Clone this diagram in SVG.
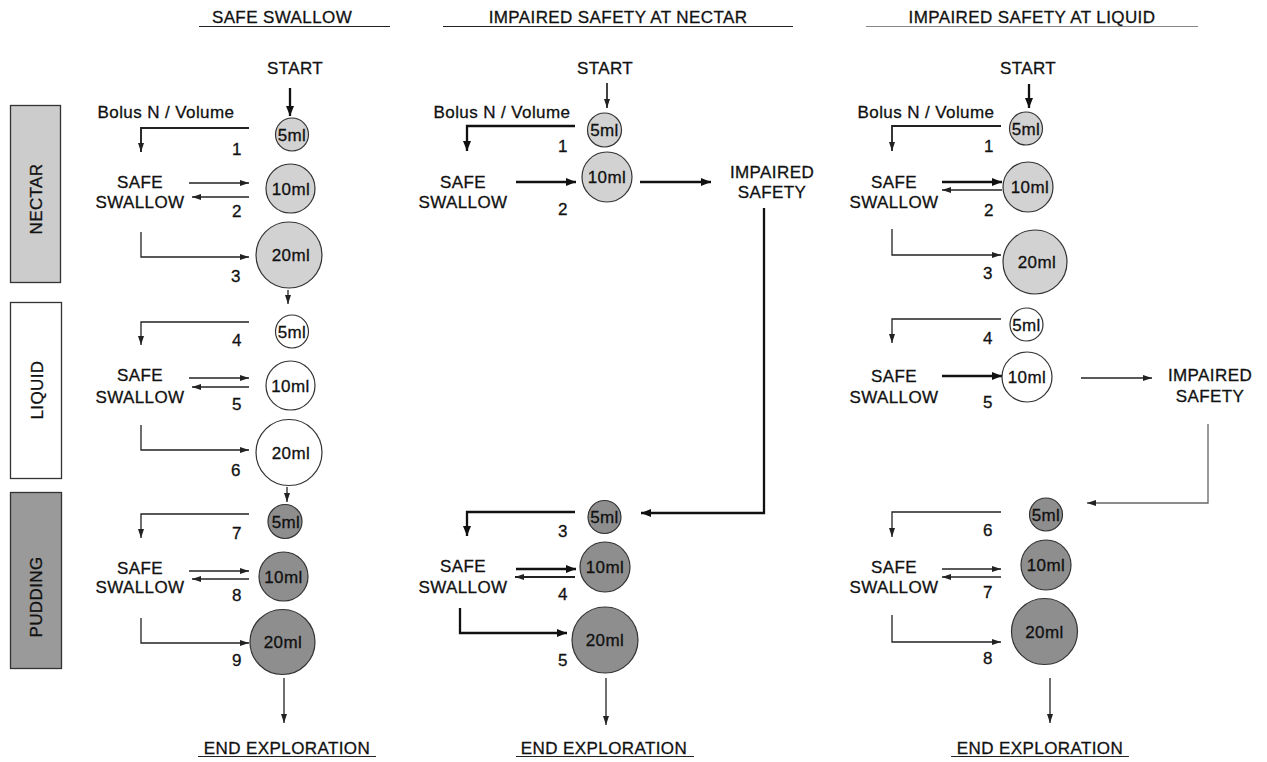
<svg xmlns="http://www.w3.org/2000/svg" width="1267" height="762" viewBox="0 0 1267 762">
<style>
text{font-family:"Liberation Sans",Arial,sans-serif;font-size:17px;fill:#111;stroke:#111;stroke-width:0.3;letter-spacing:0.4px;text-anchor:middle}
.c{stroke:#333;stroke-width:1.2}
.n{fill:#d2d2d2}.l{fill:#fff}.p{fill:#8e8e8e}
.w{fill:none;stroke:#222;stroke-width:1.3}
.b{fill:none;stroke:#111;stroke-width:2.3}
.g{fill:none;stroke:#666;stroke-width:1.3}
.u{stroke:#222;stroke-width:1.2}
</style>
<defs>
<marker id="ah" markerUnits="userSpaceOnUse" markerWidth="9" markerHeight="6" refX="9" refY="3" orient="auto"><path d="M0,0 L9,3 L0,6 z" fill="#222"/></marker>
<marker id="ahb" markerUnits="userSpaceOnUse" markerWidth="10" markerHeight="8" refX="10" refY="4" orient="auto"><path d="M0,0 L10,4 L0,8 z" fill="#111"/></marker>
</defs>

<g id="titles">
<text x="282" y="23">SAFE SWALLOW</text>
<line class="u" x1="199" y1="26.5" x2="390" y2="26.5"/>
<text x="618" y="23">IMPAIRED SAFETY AT NECTAR</text>
<line class="u" x1="443" y1="26.5" x2="793" y2="26.5"/>
<text x="1032" y="23">IMPAIRED SAFETY AT LIQUID</text>
<line stroke="#888" stroke-width="1.2" x1="866" y1="26.5" x2="1198" y2="26.5"/>
</g>

<g id="boxes">
<g id="box-nectar"><rect x="10.5" y="105.5" width="50" height="177" fill="#cccccc" stroke="#333" stroke-width="1.3"/>
<text transform="translate(36,199) rotate(-90)" x="0" y="6">NECTAR</text></g>
<g id="box-liquid"><rect x="10.5" y="302.5" width="51" height="176" fill="#fff" stroke="#333" stroke-width="1.3"/>
<text transform="translate(37,390) rotate(-90)" x="0" y="6">LIQUID</text></g>
<g id="box-pudding"><rect x="10.5" y="492.5" width="51" height="176" fill="#9a9a9a" stroke="#333" stroke-width="1.3"/>
<text transform="translate(36,597) rotate(-90)" x="0" y="6">PUDDING</text></g>
</g>

<g id="connectors">
<!-- left column -->
<path class="b" d="M290,88 V116" marker-end="url(#ahb)"/>
<path class="w" style="stroke-width:1.9" d="M249,128 H141 V152" marker-end="url(#ah)"/>
<path class="w" d="M189,183 H249" marker-end="url(#ah)"/>
<path class="w" d="M249,197 H192" marker-end="url(#ah)"/>
<path class="w" d="M141,232 V257 H249" marker-end="url(#ah)"/>
<path class="w" d="M288,290 V304" marker-end="url(#ah)"/>
<path class="w" d="M249,322 H141 V345" marker-end="url(#ah)"/>
<path class="w" d="M189,378 H249" marker-end="url(#ah)"/>
<path class="w" d="M249,387 H192" marker-end="url(#ah)"/>
<path class="w" d="M141,425 V450 H249" marker-end="url(#ah)"/>
<path class="w" d="M287,487 V502" marker-end="url(#ah)"/>
<path class="w" d="M249,514 H141 V538" marker-end="url(#ah)"/>
<path class="w" d="M189,571 H249" marker-end="url(#ah)"/>
<path class="w" d="M249,579 H192" marker-end="url(#ah)"/>
<path class="w" d="M141,618 V643 H249" marker-end="url(#ah)"/>
<path class="w" d="M284,678 V723" marker-end="url(#ah)"/>
<!-- middle column -->
<path class="w" style="stroke-width:1.7" d="M607,83 V108" marker-end="url(#ah)"/>
<path class="b" d="M575,126 H467 V151" marker-end="url(#ahb)"/>
<path class="b" d="M516,182 H576" marker-end="url(#ahb)"/>
<path class="b" d="M640,182 H711" marker-end="url(#ahb)"/>
<path class="b" d="M764,208 V513 H641" marker-end="url(#ahb)"/>
<path class="b" d="M575,512 H467 V536" marker-end="url(#ahb)"/>
<path class="b" d="M516,569 H576" marker-end="url(#ahb)"/>
<path class="w" style="stroke-width:1.8" d="M575,577 H515" marker-end="url(#ah)"/>
<path class="b" d="M460,608 V633 H567" marker-end="url(#ahb)"/>
<path class="w" d="M606,678 V725" marker-end="url(#ah)"/>
<!-- right column -->
<path class="b" d="M1029,84 V108" marker-end="url(#ahb)"/>
<path class="w" style="stroke-width:1.8" d="M1001,126 H892 V151" marker-end="url(#ah)"/>
<path class="b" d="M942,182 H1002" marker-end="url(#ahb)"/>
<path class="w" d="M1002,190 H942" marker-end="url(#ah)"/>
<path class="w" d="M892,229 V255 H1001" marker-end="url(#ah)"/>
<path class="w" d="M1001,319 H892 V343" marker-end="url(#ah)"/>
<path class="b" d="M942,376 H1002" marker-end="url(#ahb)"/>
<path class="w" d="M1081,378 H1152" marker-end="url(#ah)"/>
<path class="g" d="M1208,424 V503 H1087" marker-end="url(#ah)"/>
<path class="w" d="M1001,512 H892 V537" marker-end="url(#ah)"/>
<path class="w" d="M942,569 H1001" marker-end="url(#ah)"/>
<path class="w" d="M1001,577 H942" marker-end="url(#ah)"/>
<path class="w" d="M892,615 V642 H1001" marker-end="url(#ah)"/>
<path class="w" d="M1050,678 V723" marker-end="url(#ah)"/>
</g>

<g id="labels">
<text x="166" y="118">Bolus N / Volume</text>
<text x="502" y="118">Bolus N / Volume</text>
<text x="926" y="118">Bolus N / Volume</text>
<text x="295" y="74">START</text>
<text x="605" y="74">START</text>
<text x="1028" y="74">START</text>
<text x="237" y="155">1</text><text x="237" y="217">2</text><text x="236" y="282">3</text>
<text x="237" y="346">4</text><text x="237" y="410">5</text><text x="236" y="476">6</text>
<text x="237" y="539">7</text><text x="237" y="601">8</text><text x="237" y="666">9</text>
<text x="563" y="152">1</text><text x="563" y="215">2</text><text x="563" y="537">3</text>
<text x="563" y="600">4</text><text x="563" y="666">5</text>
<text x="989" y="152">1</text><text x="989" y="216">2</text><text x="988" y="279">3</text>
<text x="988" y="344">4</text><text x="988" y="408">5</text><text x="988" y="536">6</text>
<text x="988" y="598">7</text><text x="988" y="664">8</text>
<text x="287" y="754">END EXPLORATION</text>
<line class="u" x1="198" y1="756.5" x2="376" y2="756.5"/>
<text x="604" y="754">END EXPLORATION</text>
<line class="u" x1="516" y1="756.5" x2="694" y2="756.5"/>
<text x="1040" y="754">END EXPLORATION</text>
<line class="u" x1="951" y1="756.5" x2="1129" y2="756.5"/>
</g>

<g id="safe-swallow-nodes">
<g id="ss-l1"><text x="140" y="188">SAFE</text><text x="140" y="208">SWALLOW</text></g>
<g id="ss-l2"><text x="140" y="381">SAFE</text><text x="140" y="403">SWALLOW</text></g>
<g id="ss-l3"><text x="140" y="574">SAFE</text><text x="140" y="593">SWALLOW</text></g>
<g id="ss-m1"><text x="463" y="188">SAFE</text><text x="463" y="208">SWALLOW</text></g>
<g id="ss-m2"><text x="463" y="572">SAFE</text><text x="463" y="593">SWALLOW</text></g>
<g id="ss-r1"><text x="894" y="188">SAFE</text><text x="894" y="208">SWALLOW</text></g>
<g id="ss-r2"><text x="894" y="382">SAFE</text><text x="894" y="403">SWALLOW</text></g>
<g id="ss-r3"><text x="894" y="573">SAFE</text><text x="894" y="593">SWALLOW</text></g>
<g id="imp-m"><text x="772" y="178">IMPAIRED</text><text x="772" y="198">SAFETY</text></g>
<g id="imp-r"><text x="1210" y="381">IMPAIRED</text><text x="1210" y="402">SAFETY</text></g>
</g>

<g id="circles">
<g id="l-n5"><circle class="c n" cx="292" cy="134.5" r="16.5"/><text x="292" y="140.5">5ml</text></g>
<g id="l-n10"><circle class="c n" cx="290.5" cy="188.5" r="24.5"/><text x="291" y="194.5">10ml</text></g>
<g id="l-n20"><circle class="c n" cx="289" cy="255" r="33"/><text x="291" y="261">20ml</text></g>
<g id="l-l5"><circle class="c l" cx="292" cy="331.5" r="16.5"/><text x="292" y="337.5">5ml</text></g>
<g id="l-l10"><circle class="c l" cx="290.5" cy="385.5" r="24.5"/><text x="290.5" y="391.5">10ml</text></g>
<g id="l-l20"><circle class="c l" cx="289" cy="452.5" r="33"/><text x="291" y="458.5">20ml</text></g>
<g id="l-p5"><circle class="c p" cx="285" cy="521.5" r="17"/><text x="286" y="527.5">5ml</text></g>
<g id="l-p10"><circle class="c p" cx="283.5" cy="576.5" r="24.5"/><text x="283.5" y="582.5">10ml</text></g>
<g id="l-p20"><circle class="c p" cx="282.5" cy="642" r="32.5"/><text x="283" y="648">20ml</text></g>

<g id="m-n5"><circle class="c n" cx="604.5" cy="130" r="17"/><text x="604.5" y="136">5ml</text></g>
<g id="m-n10"><circle class="c n" cx="607" cy="177" r="25"/><text x="607" y="183">10ml</text></g>
<g id="m-p5"><circle class="c p" cx="604.5" cy="517" r="16.5"/><text x="604.5" y="523">5ml</text></g>
<g id="m-p10"><circle class="c p" cx="605" cy="567" r="25"/><text x="605" y="573">10ml</text></g>
<g id="m-p20"><circle class="c p" cx="605" cy="640" r="33"/><text x="605" y="646">20ml</text></g>

<g id="r-n5"><circle class="c n" cx="1026" cy="128.5" r="16.5"/><text x="1026" y="134.5">5ml</text></g>
<g id="r-n10"><circle class="c n" cx="1028" cy="187" r="25"/><text x="1030" y="193">10ml</text></g>
<g id="r-n20"><circle class="c n" cx="1035" cy="262" r="32"/><text x="1037" y="268">20ml</text></g>
<g id="r-l5"><circle class="c l" cx="1026.5" cy="324.5" r="16.5"/><text x="1026.5" y="330.5">5ml</text></g>
<g id="r-l10"><circle class="c l" cx="1027" cy="377" r="25"/><text x="1027" y="383">10ml</text></g>
<g id="r-p5"><circle class="c p" cx="1046" cy="514.5" r="16.5"/><text x="1046" y="520.5">5ml</text></g>
<g id="r-p10"><circle class="c p" cx="1046" cy="565" r="25"/><text x="1046" y="571">10ml</text></g>
<g id="r-p20"><circle class="c p" cx="1044.5" cy="631.5" r="33"/><text x="1044.5" y="637.5">20ml</text></g>
</g>
</svg>
